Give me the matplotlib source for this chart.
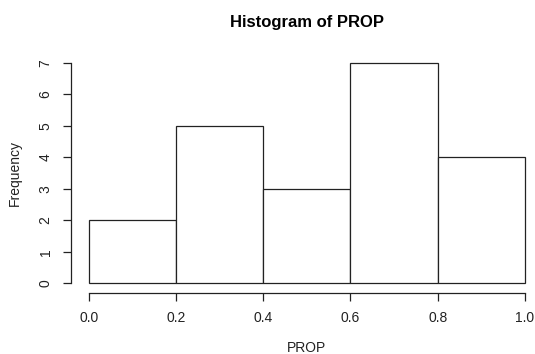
import matplotlib
matplotlib.use("Agg")
import matplotlib.pyplot as plt
import numpy as np

bin_edges = [0.0, 0.2, 0.4, 0.6, 0.8, 1.0]
counts = [2, 5, 3, 7, 4]
x_ticks = [0.0, 0.2, 0.4, 0.6, 0.8, 1.0]
x_tick_labels = ["0.0", "0.2", "0.4", "0.6", "0.8", "1.0"]
y_ticks = [0, 1, 2, 3, 4, 5, 6, 7]

plt.rcParams['font.family'] = ['Liberation Sans', 'DejaVu Sans']

W, H = 535, 354
fig = plt.figure(figsize=(W/100, H/100), dpi=100)
x0, x1 = 88.7, 525.0
y0, y1 = 283.3, 62.7
ax = fig.add_axes([x0/W, (H-y0)/H, (x1-x0)/W, (y0-y1)/H])
ax.set_xlim(0, 1)
ax.set_ylim(0, 7)

lefts = np.array(bin_edges[:-1])
widths = np.diff(bin_edges)
bars = ax.bar(lefts, counts, width=widths, align='edge', facecolor='white',
              edgecolor='#222222', linewidth=0.9)
for b in bars:
    b.set_clip_on(False)

for s in ['top', 'right']:
    ax.spines[s].set_visible(False)
ax.spines['left'].set_position(('outward', 12.5))
ax.spines['bottom'].set_position(('outward', 7.3))
ax.spines['left'].set_bounds(0, 7)
ax.spines['bottom'].set_bounds(0, 1)
for s in ['left', 'bottom']:
    ax.spines[s].set_linewidth(0.9)
    ax.spines[s].set_color('#222222')

ax.set_xticks(x_ticks)
ax.set_xticklabels(x_tick_labels)
ax.set_yticks(y_ticks)
ax.tick_params(axis='both', length=5.5, width=0.9, color='#222222', labelsize=10, labelcolor='#222222')
ax.tick_params(axis='x', pad=7)
ax.tick_params(axis='y', pad=8)
for lab in ax.get_yticklabels():
    lab.set_rotation(90)
    lab.set_va('center')

ax.set_xlabel("PROP", fontsize=10, labelpad=12, color='#222222')
ax.set_ylabel("Frequency", fontsize=10, labelpad=12, color='#222222')
ax.set_title("Histogram of PROP", fontsize=12, fontweight='bold', pad=26)

fig.savefig("out.png", dpi=100)
